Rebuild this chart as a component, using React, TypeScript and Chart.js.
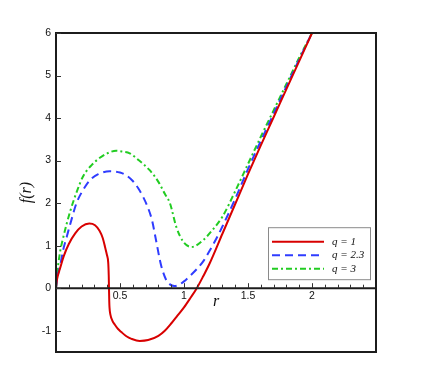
import React, { useEffect, useRef } from "react";
import { Chart, registerables } from "chart.js";

Chart.register(...registerables);

// ---- data ----
const seriesLabels = ["q = 1", "q = 2.3", "q = 3"];
const seriesColors = ["#d80000", "#2f3cff", "#22cc22"];

const rRed = [0, 0.005, 0.015, 0.03, 0.06, 0.1, 0.15, 0.2, 0.26, 0.305, 0.34, 0.365, 0.383, 0.398, 0.408, 0.412, 0.414, 0.416, 0.418, 0.425, 0.44, 0.46, 0.485, 0.51, 0.55, 0.59, 0.654, 0.72, 0.8, 0.85, 0.9, 0.95, 1.0, 1.05, 1.1, 1.15, 1.2, 1.3, 1.4, 1.5, 1.6, 1.7, 1.8, 1.9, 2.0];
const fRed = [0, 0.15, 0.3, 0.45, 0.75, 1.04, 1.29, 1.45, 1.52, 1.48, 1.35, 1.18, 0.97, 0.78, 0.6, 0.3, 0.0, -0.3, -0.45, -0.62, -0.76, -0.86, -0.96, -1.03, -1.13, -1.19, -1.24, -1.22, -1.12, -1.0, -0.83, -0.64, -0.45, -0.23, 0.0, 0.28, 0.58, 1.28, 1.98, 2.68, 3.36, 4.02, 4.68, 5.34, 6.0];

const rBlue = [0, 0.01, 0.03, 0.06, 0.083, 0.12, 0.16, 0.2, 0.265, 0.33, 0.42, 0.5, 0.55, 0.6, 0.64, 0.68, 0.72, 0.75, 0.78, 0.82, 0.86, 0.89, 0.926, 0.96, 1.0, 1.05, 1.1, 1.15, 1.2, 1.25, 1.3, 1.4, 1.5, 1.6, 1.7, 1.8, 1.9, 2.0];
const fBlue = [0, 0.25, 0.5, 0.95, 1.2, 1.6, 2.0, 2.25, 2.54, 2.68, 2.75, 2.72, 2.65, 2.52, 2.36, 2.15, 1.88, 1.6, 1.15, 0.55, 0.2, 0.09, 0.05, 0.08, 0.16, 0.3, 0.45, 0.63, 0.88, 1.15, 1.45, 2.1, 2.8, 3.46, 4.1, 4.74, 5.38, 6.0];

const rGreen = [0, 0.01, 0.03, 0.057, 0.11, 0.16, 0.21, 0.28, 0.34, 0.4, 0.47, 0.52, 0.576, 0.65, 0.73, 0.8, 0.85, 0.89, 0.94, 0.995, 1.06, 1.15, 1.22, 1.3, 1.4, 1.5, 1.6, 1.7, 1.8, 1.9, 2.0];
const fGreen = [0, 0.35, 0.82, 1.2, 1.8, 2.25, 2.62, 2.9, 3.06, 3.17, 3.23, 3.21, 3.17, 3.0, 2.78, 2.5, 2.22, 2.0, 1.44, 1.09, 0.97, 1.13, 1.36, 1.68, 2.28, 2.92, 3.56, 4.18, 4.8, 5.42, 6.0];

const xTickValues = [0.5, 1, 1.5, 2];
const xTickLabels = ["0.5", "1", "1.5", "2"];
const xMinorTickValues = [0.1, 0.2, 0.3, 0.4, 0.6, 0.7, 0.8, 0.9, 1.1, 1.2, 1.3, 1.4, 1.6, 1.7, 1.8, 1.9, 2.1, 2.2, 2.3, 2.4];
const yTickValues = [-1, 0, 1, 2, 3, 4, 5, 6];
const yTickLabels = ["-1", "0", "1", "2", "3", "4", "5", "6"];
const xAxisTitle = "r";
const yAxisTitle = "f(r)";

const toPoints = (xs: number[], ys: number[]) => xs.map((x, i) => ({ x, y: ys[i] }));

export default function App() {
  const ref = useRef<HTMLCanvasElement>(null);

  useEffect(() => {
    if (!ref.current) return;

    const decorPlugin = {
      id: "decor",
      afterDraw(chart: any) {
        const { ctx, chartArea: a, scales } = chart;
        const xs = scales.x;
        const ys = scales.y;
        const y0 = ys.getPixelForValue(0);
        ctx.save();
        // frame
        ctx.strokeStyle = "#1c1c1c";
        ctx.lineWidth = 2;
        ctx.strokeRect(a.left, a.top, a.right - a.left, a.bottom - a.top);
        // zero line
        ctx.beginPath();
        ctx.moveTo(a.left, y0);
        ctx.lineTo(a.right, y0);
        ctx.stroke();
        // inward ticks
        ctx.lineWidth = 1;
        ctx.strokeStyle = "#333";
        ctx.beginPath();
        xMinorTickValues.forEach((v) => {
          const px = Math.round(xs.getPixelForValue(v)) + 0.5;
          ctx.moveTo(px, y0);
          ctx.lineTo(px, y0 - 3.5);
        });
        xTickValues.forEach((v) => {
          const px = Math.round(xs.getPixelForValue(v)) + 0.5;
          ctx.moveTo(px, y0);
          ctx.lineTo(px, y0 - 5);
        });
        yTickValues.forEach((v) => {
          const py = Math.round(ys.getPixelForValue(v)) + 0.5;
          ctx.moveTo(a.left, py);
          ctx.lineTo(a.left + 5, py);
        });
        ctx.stroke();

        // axis titles
        ctx.fillStyle = "#111";
        ctx.font = "italic 16px 'Liberation Serif', serif";
        ctx.textAlign = "center";
        ctx.textBaseline = "middle";
        ctx.fillText(xAxisTitle, (a.left + a.right) / 2, y0 + 14);
        ctx.save();
        ctx.translate(27, (a.top + a.bottom) / 2);
        ctx.rotate(-Math.PI / 2);
        ctx.fillText(yAxisTitle, 0, 0);
        ctx.restore();

        // legend
        const bx = a.right - 108;
        const by = y0 - 61;
        const bw = 102;
        const bh = 52;
        ctx.fillStyle = "#fff";
        ctx.fillRect(bx, by, bw, bh);
        ctx.strokeStyle = "#8a8a8a";
        ctx.lineWidth = 1;
        ctx.strokeRect(bx + 0.5, by + 0.5, bw, bh);
        chart.data.datasets.forEach((ds: any, i: number) => {
          const ly = by + 14.5 + i * 13.5;
          ctx.strokeStyle = ds.borderColor;
          ctx.lineWidth = 2;
          ctx.setLineDash(ds.borderDash || []);
          ctx.beginPath();
          ctx.moveTo(bx + 4, ly);
          ctx.lineTo(bx + 56, ly);
          ctx.stroke();
          ctx.setLineDash([]);
          ctx.fillStyle = "#111";
          ctx.font = "italic 11px 'Liberation Serif', serif";
          ctx.textAlign = "left";
          ctx.textBaseline = "middle";
          ctx.fillText(ds.label, bx + 64, ly);
        });
        ctx.restore();
      },
    };

    const chart = new Chart(ref.current, {
      type: "line",
      data: {
        datasets: [
          {
            label: seriesLabels[0],
            data: toPoints(rRed, fRed),
            borderColor: seriesColors[0],
            borderWidth: 2,
            pointRadius: 0,
            cubicInterpolationMode: "monotone",
            fill: false,
          },
          {
            label: seriesLabels[1],
            data: toPoints(rBlue, fBlue),
            borderColor: seriesColors[1],
            borderWidth: 2,
            borderDash: [8, 5],
            pointRadius: 0,
            cubicInterpolationMode: "monotone",
            fill: false,
          },
          {
            label: seriesLabels[2],
            data: toPoints(rGreen, fGreen),
            borderColor: seriesColors[2],
            borderWidth: 2,
            borderDash: [6, 3, 2, 3],
            pointRadius: 0,
            cubicInterpolationMode: "monotone",
            fill: false,
          },
        ],
      } as any,
      options: {
        responsive: false,
        animation: false,
        parsing: false,
        layout: { padding: { left: 0, right: 53, top: 33, bottom: 30 } },
        plugins: {
          legend: { display: false },
          tooltip: { enabled: false },
          title: { display: false },
        },
        scales: {
          x: {
            type: "linear",
            min: 0,
            max: 2.5,
            position: { y: 0 } as any,
            grid: { display: false, drawTicks: false },
            border: { display: false },
            afterBuildTicks: (s: any) => {
              s.ticks = xTickValues.map((v) => ({ value: v }));
            },
            ticks: {
              autoSkip: false,
              maxRotation: 0,
              padding: 2,
              color: "#111",
              font: { family: "'Liberation Sans', Arial, sans-serif", size: 10.5 },
              callback: (v: any) => xTickLabels[xTickValues.indexOf(Number(v))] ?? String(v),
            },
          },
          y: {
            type: "linear",
            min: -1.5,
            max: 6,
            position: "left",
            grid: { display: false, drawTicks: false },
            border: { display: false },
            afterFit: (s: any) => {
              s.width = 56;
            },
            afterBuildTicks: (s: any) => {
              s.ticks = yTickValues.map((v) => ({ value: v }));
            },
            ticks: {
              autoSkip: false,
              padding: 5,
              color: "#111",
              font: { family: "'Liberation Sans', Arial, sans-serif", size: 10.5 },
              callback: (v: any) => yTickLabels[yTickValues.indexOf(Number(v))] ?? String(v),
            },
          },
        },
      } as any,
      plugins: [decorPlugin],
    });

    return () => chart.destroy();
  }, []);

  return (
    <div style={{ position: "absolute", left: 0, top: 0, width: 429, height: 382, background: "#fff" }}>
      <canvas ref={ref} width={429} height={382} style={{ display: "block" }} />
    </div>
  );
}
